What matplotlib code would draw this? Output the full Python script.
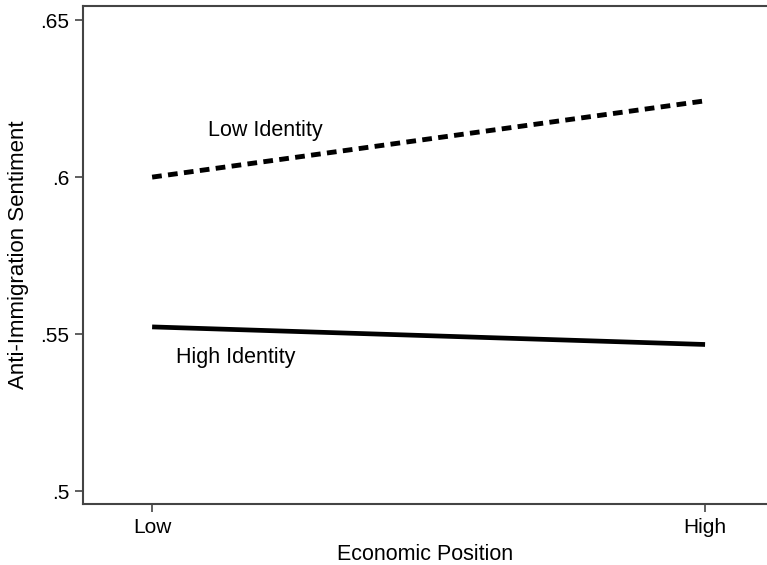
import matplotlib
matplotlib.use("Agg")
from matplotlib import pyplot as plt

plt.rcParams['font.family'] = ['Liberation Sans', 'DejaVu Sans']

# data
econ_pos = [0, 1]
econ_labels = ['Low', 'High']
low_identity = [0.600, 0.6243]
high_identity = [0.5523, 0.5467]
y_ticks = [0.5, 0.55, 0.6, 0.65]
y_tick_labels = ['.5', '.55', '.6', '.65']

fig = plt.figure(figsize=(7.67, 5.65), dpi=100)
ax = fig.add_axes([83/767, 61/565, 1 - 83/767, (504 - 6)/565])

ax.plot(econ_pos, low_identity, color='black', lw=3.5, ls=(0, (2.0, 1.3)),
        dash_capstyle='butt', solid_capstyle='butt')
ax.plot(econ_pos, high_identity, color='black', lw=3.4, solid_capstyle='butt')

ax.text(0.204, 0.615, 'Low Identity', fontsize=15.5, ha='center', va='center')
ax.text(0.152, 0.5425, 'High Identity', fontsize=15.5, ha='center', va='center')

ax.set_xlim(-0.125, 1.112)
ax.set_ylim(0.4959, 0.6545)
ax.set_xticks(econ_pos)
ax.set_xticklabels(econ_labels)
ax.set_yticks(y_ticks)
ax.set_yticklabels(y_tick_labels)
ax.tick_params(labelsize=15, length=6, width=1.2, color='#444444', pad=4)

for side in ['left', 'bottom', 'top']:
    ax.spines[side].set_color('#444444')
    ax.spines[side].set_linewidth(1.5)
ax.spines['right'].set_visible(False)

ax.set_xlabel('Economic Position', fontsize=15.5, labelpad=5)
ax.set_ylabel('Anti-Immigration Sentiment', fontsize=16, labelpad=8)

fig.savefig('out.png', dpi=100)
